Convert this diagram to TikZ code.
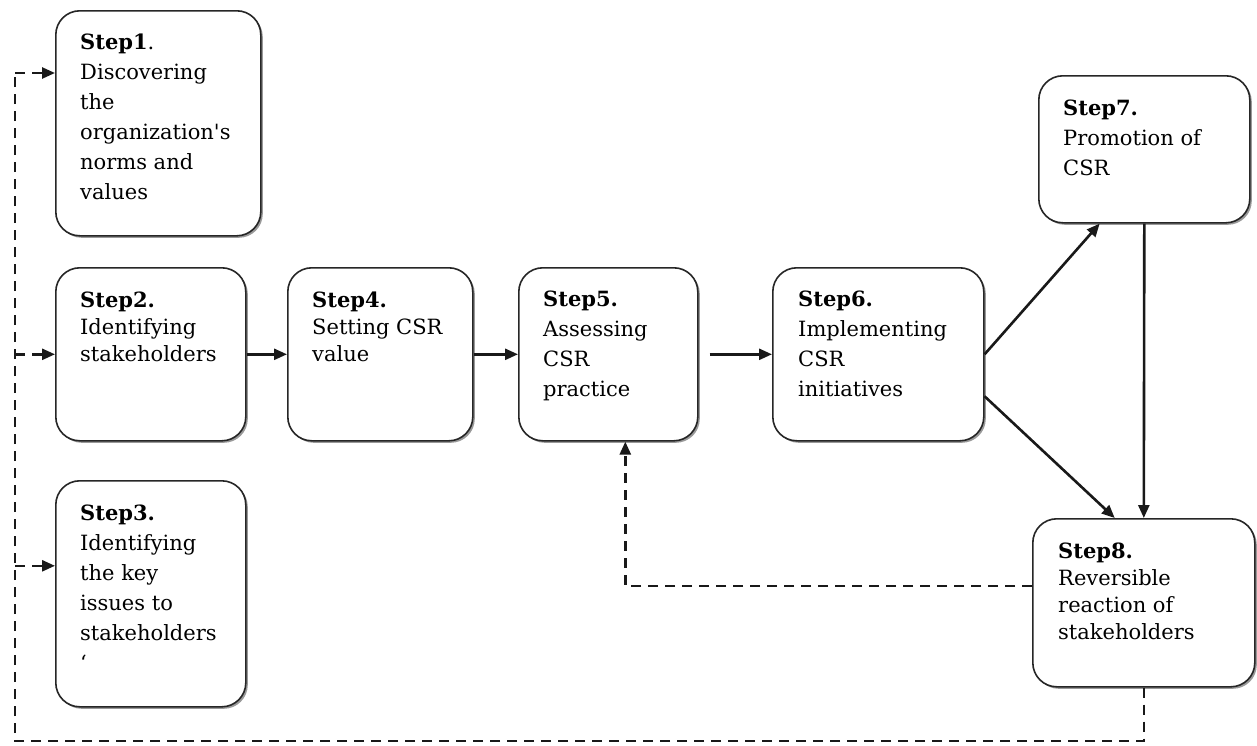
\documentclass[tikz,border=0pt]{standalone}
\usepackage{fontspec}
\setmainfont{DejaVu Serif}
\usetikzlibrary{arrows.meta,shadows,calc}
\tikzset{
  box/.style={draw=black!85, line width=1.6pt, rounded corners=24pt, fill=white,
    drop shadow={shadow xshift=2pt, shadow yshift=-2pt, fill=black!40, opacity=1},
    anchor=north west, inner sep=0pt},
  txt/.style={inner sep=0pt, anchor=north west, align=left, font=\fontsize{21}{30}\selectfont},
  txtb/.style={txt, font=\fontsize{21}{27}\selectfont},
  arr/.style={line width=2.6pt, draw=black!90, -{Triangle[length=13pt,width=11pt]}},
  dl/.style={line width=2.6pt, draw=black!90, dash pattern=on 10pt off 7pt},
  dla/.style={dl, -{Triangle[length=13pt,width=11pt]}}
}
\begin{document}
\begin{tikzpicture}[x=1pt,y=-1pt]
\useasboundingbox (0,0) rectangle (1257,745);
% boxes
\node[box, minimum width=205pt, minimum height=225pt] (s1) at (55,10) {};
\node[box, minimum width=190pt, minimum height=173pt] (s2) at (55,267) {};
\node[box, minimum width=190pt, minimum height=226pt] (s3) at (55,480) {};
\node[box, minimum width=185pt, minimum height=173pt] (s4) at (287,267) {};
\node[box, minimum width=179pt, minimum height=173pt] (s5) at (518,267) {};
\node[box, minimum width=211pt, minimum height=173pt] (s6) at (772,267) {};
\node[box, minimum width=211pt, minimum height=147pt] (s7) at (1038,75) {};
\node[box, minimum width=222pt, minimum height=168pt] (s8) at (1032,518) {};
% texts
\node[txt] (t1) at ([xshift=25pt,yshift=-24pt]s1.north west) {\textbf{Step1}.\\Discovering\\the\\organization\textquotesingle s\\norms and\\values};
\node[txtb] (t2) at ([xshift=25pt,yshift=-25pt]s2.north west) {\textbf{Step2.}\\Identifying\\stakeholders};
\node[txt] (t3) at ([xshift=25pt,yshift=-25pt]s3.north west) {\textbf{Step3.}\\Identifying\\the key\\issues to\\stakeholders\\‘};
\node[txtb] (t4) at ([xshift=25pt,yshift=-25pt]s4.north west) {\textbf{Step4.}\\Setting CSR\\value};
\node[txt] (t5) at ([xshift=25pt,yshift=-24pt]s5.north west) {\textbf{Step5.}\\Assessing\\CSR\\practice};
\node[txt] (t6) at ([xshift=26pt,yshift=-24pt]s6.north west) {\textbf{Step6.}\\Implementing\\CSR\\initiatives};
\node[txt] (t7) at ([xshift=25pt,yshift=-25pt]s7.north west) {\textbf{Step7.}\\Promotion of\\CSR};
\node[txtb] (t8) at ([xshift=26pt,yshift=-25pt]s8.north west) {\textbf{Step8.}\\Reversible\\reaction of\\stakeholders};
% solid arrows
\draw[arr] (s2.east) -- (s4.west);
\draw[arr] (s4.east) -- (s5.west);
\draw[arr] ([xshift=11pt]s5.east) -- (s6.west);
\draw[arr] (s6.east) -- ($(s7.south west)!0.29!(s7.south east)$);
\draw[arr] ([yshift=-42pt]s6.east) -- ($(s8.north west)!0.37!(s8.north east)$);
\draw[arr] (s7.south) -- (s8.north);
% dashed feedback to step 5
\coordinate (f5) at ([xshift=17pt]s5.south);
\draw[dla] ([yshift=17pt]s8.west) -| (f5);
% dashed loop back to steps 1-3
\coordinate (lb) at (15,741);
\coordinate (lt) at (15,73);
\coordinate (in3) at ([yshift=28pt]s3.west);
\draw[dl] (s8.south) -- (s8.south |- lb) -- (lb) -- (lt);
\draw[dla] (lt) -- (lt -| s1.west);
\draw[dla] (s2.west -| lb) -- (s2.west);
\draw[dla] (in3 -| lb) -- (in3);
\end{tikzpicture}
\end{document}
